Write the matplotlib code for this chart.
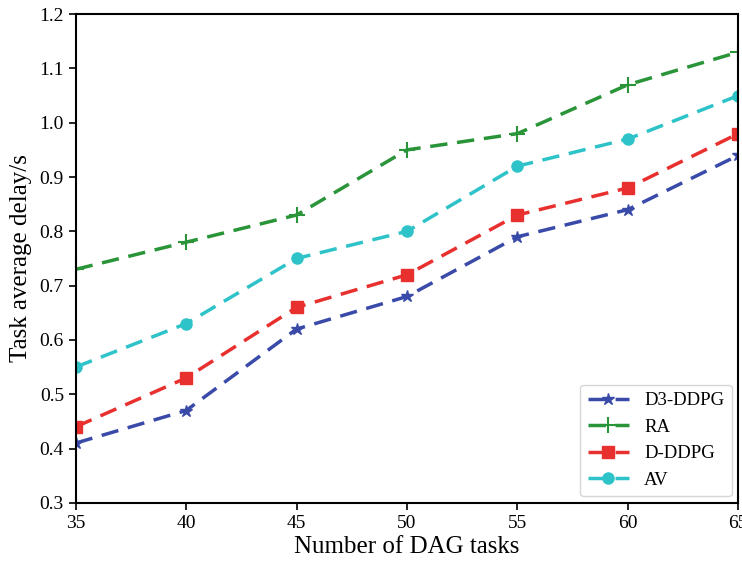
import matplotlib
matplotlib.use("Agg")
import matplotlib.pyplot as plt

# data
tasks = [35, 40, 45, 50, 55, 60, 65]
d3_ddpg = [0.41, 0.47, 0.62, 0.68, 0.79, 0.84, 0.94]
ra = [0.73, 0.78, 0.83, 0.95, 0.98, 1.07, 1.13]
d_ddpg = [0.44, 0.53, 0.66, 0.72, 0.83, 0.88, 0.98]
av = [0.55, 0.63, 0.75, 0.80, 0.92, 0.97, 1.05]

plt.rcParams['font.family'] = ['Liberation Serif', 'DejaVu Serif']

fig = plt.figure(figsize=(7.42, 5.65), dpi=100)
ax = fig.add_axes([0.102, 0.110, 0.893, 0.865])

dash = (5, 2.8)
ax.plot(tasks, d3_ddpg, '--', dashes=dash, color='#3a4aa8', marker='*', markersize=9, lw=2.5, label='D3-DDPG')
ax.plot(tasks, ra, '--', dashes=dash, color='#2a9438', marker='+', markersize=11, mew=1.5, lw=2.5, label='RA')
ax.plot(tasks, d_ddpg, '--', dashes=dash, color='#e8302f', marker='s', markersize=8, lw=2.5, label='D-DDPG')
ax.plot(tasks, av, '--', dashes=dash, color='#2ec3c8', marker='o', markersize=8, lw=2.5, label='AV')

ax.set_xlim(35, 65)
ax.set_ylim(0.3, 1.2)
ax.set_xticks(tasks)
ax.set_yticks([0.3, 0.4, 0.5, 0.6, 0.7, 0.8, 0.9, 1.0, 1.1, 1.2])
ax.set_yticklabels(['0.3', '0.4', '0.5', '0.6', '0.7', '0.8', '0.9', '1.0', '1.1', '1.2'])
ax.tick_params(labelsize=14, direction='out', length=5, width=1.2)
for s in ax.spines.values():
    s.set_linewidth(1.5)

ax.set_xlabel('Number of DAG tasks', fontsize=18, labelpad=3)
ax.set_ylabel('Task average delay/s', fontsize=18, labelpad=5)
ax.legend(loc='lower right', fontsize=13.5, handlelength=2.2, borderaxespad=0.35)

fig.savefig('out.png', dpi=100)
